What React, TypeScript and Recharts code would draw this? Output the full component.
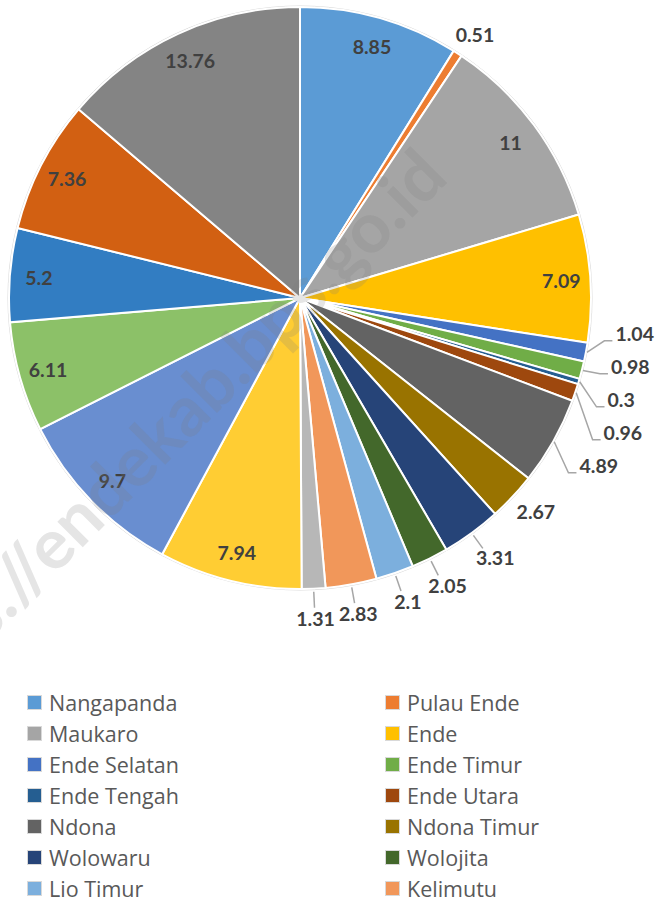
import React from 'react';
import { PieChart, Pie, Cell, Legend, Customized } from 'recharts';

const districts = [
  'Nangapanda', 'Pulau Ende', 'Maukaro', 'Ende', 'Ende Selatan', 'Ende Timur',
  'Ende Tengah', 'Ende Utara', 'Ndona', 'Ndona Timur', 'Wolowaru', 'Wolojita',
  'Lio Timur', 'Kelimutu', 'Ndori', 'Maurole', 'Kotabaru', 'Detukeli',
  'Lepembusu Kelisoke', 'Detusoko', 'Wewaria',
];
const shares = [
  8.85, 0.51, 11, 7.09, 1.04, 0.98, 0.3, 0.96, 4.89, 2.67, 3.31, 2.05,
  2.1, 2.83, 1.31, 7.94, 9.7, 6.11, 5.2, 7.36, 13.76,
];
const COLORS = [
  '#5B9BD5', '#ED7D31', '#A5A5A5', '#FFC000', '#4472C4', '#70AD47',
  '#255E91', '#9E480E', '#636363', '#997300', '#264478', '#43682B',
  '#7CAFDD', '#F1975A', '#B7B7B7', '#FFCD33', '#698ED0', '#8CC168',
  '#327DC2', '#D26012', '#848484',
];

const data = districts.map((name, i) => ({ name, value: shares[i] }));

const W = 662;
const H = 897;
const CX = 300;
const CY = 298;
const R = 291;
const RADIAN = Math.PI / 180;
const INSIDE_MIN = 5; // smaller slices get their label outside
const GAP = 33; // spacing of the stacked labels on the right edge
const ROW_H = 30.9;

const LABEL_FONT = 'Lato, "Open Sans", sans-serif';
const LEGEND_FONT = '"Open Sans", sans-serif';
const LINE = '#A6A6A6';

// the tiny slices on the right crowd together, so stack their labels like excel does
const stackedY: Record<number, number> = (() => {
  const total = shares.reduce((s, v) => s + v, 0);
  let acc = 0;
  const pts: { i: number; y: number }[] = [];
  shares.forEach((v, i) => {
    const t = ((acc + v / 2) / total) * 2 * Math.PI;
    acc += v;
    if (v >= INSIDE_MIN) return;
    if (Math.sin(t) > 0.85) pts.push({ i, y: CY - (R + 40) * Math.cos(t) });
  });
  pts.sort((a, b) => a.y - b.y);
  const groups = pts.map((p) => ({ items: [p], c: p.y }));
  let again = true;
  while (again) {
    again = false;
    for (let k = 0; k < groups.length - 1; k++) {
      const a = groups[k];
      const b = groups[k + 1];
      const aEnd = a.c + ((a.items.length - 1) * GAP) / 2;
      const bStart = b.c - ((b.items.length - 1) * GAP) / 2;
      if (bStart - aEnd < GAP) {
        const items = [...a.items, ...b.items];
        groups.splice(k, 2, { items, c: items.reduce((s, p) => s + p.y, 0) / items.length });
        again = true;
        break;
      }
    }
  }
  const out: Record<number, number> = {};
  groups.forEach((g) =>
    g.items.forEach((p, j) => {
      out[p.i] = g.c + (j - (g.items.length - 1) / 2) * GAP;
    })
  );
  return out;
})();

const txt = { fontFamily: LABEL_FONT, fontSize: 19.5, fontWeight: 700, fill: '#404040' };

const renderLabel = ({ cx, cy, midAngle, outerRadius, value, index }: any) => {
  const cos = Math.cos(-midAngle * RADIAN);
  const sin = Math.sin(-midAngle * RADIAN);

  if (value >= INSIDE_MIN) {
    const r = outerRadius * 0.9;
    return (
      <text x={cx + r * cos} y={cy + r * sin} textAnchor="middle" dominantBaseline="central" {...txt}>
        {value}
      </text>
    );
  }

  const ex = cx + (outerRadius + 1) * cos;
  const ey = cy + (outerRadius + 1) * sin;

  if (stackedY[index] !== undefined) {
    const y = stackedY[index];
    const x = cx + (outerRadius + 30) * cos;
    const base = y + 7;
    return (
      <g>
        <polyline
          points={`${ex},${ey} ${x - 11},${base} ${x - 3},${base}`}
          fill="none"
          stroke={LINE}
          strokeWidth={1.5}
        />
        <text x={x} y={y} dominantBaseline="central" {...txt}>
          {value}
        </text>
      </g>
    );
  }

  const low = sin > 0.8;
  const d = low ? 20 : 12;
  const lx = cx + (outerRadius + d) * cos + 20 * cos;
  const ly = cy + (outerRadius + d) * sin + 10 * sin;
  return (
    <g>
      {low && (
        <line
          x1={cx + (outerRadius + 3) * cos}
          y1={cy + (outerRadius + 3) * sin}
          x2={cx + (outerRadius + d - 1) * cos}
          y2={cy + (outerRadius + d - 1) * sin}
          stroke={LINE}
          strokeWidth={1.5}
        />
      )}
      <text x={lx} y={ly} textAnchor="middle" dominantBaseline="central" {...txt}>
        {value}
      </text>
    </g>
  );
};

const renderLegend = () => (
  <div
    style={{
      position: 'relative',
      width: W,
      height: Math.ceil(districts.length / 2) * ROW_H,
      fontFamily: LEGEND_FONT,
      fontSize: 21.5,
      color: '#595959',
    }}
  >
    {districts.map((name, i) => (
      <div
        key={name}
        style={{
          position: 'absolute',
          left: i % 2 ? 385 : 27,
          top: Math.floor(i / 2) * ROW_H,
          height: ROW_H,
          display: 'flex',
          alignItems: 'center',
          whiteSpace: 'nowrap',
        }}
      >
        <span
          style={{
            display: 'inline-block',
            width: 13,
            height: 13,
            background: COLORS[i],
            border: '1.5px solid #D9D9D9',
            marginRight: 7,
          }}
        />
        {name}
      </div>
    ))}
  </div>
);

const Outline = () => <circle cx={CX} cy={CY} r={R + 1} fill="none" stroke="#D9D9D9" strokeWidth={1} />;

export default function App() {
  return (
    <div style={{ position: 'absolute', left: 0, top: 0, width: W, height: H, overflow: 'hidden', background: '#fff' }}>
      <PieChart width={W} height={H} margin={{ top: 0, right: 0, bottom: 0, left: 0 }}>
        <Customized component={Outline} />
        <Pie
          data={data}
          dataKey="value"
          nameKey="name"
          cx={CX}
          cy={CY}
          outerRadius={R}
          startAngle={90}
          endAngle={-270}
          stroke="#fff"
          strokeWidth={2}
          labelLine={false}
          label={renderLabel}
          isAnimationActive={false}
        >
          {data.map((entry, index) => (
            <Cell key={`cell-${index}`} fill={COLORS[index]} />
          ))}
        </Pie>
        <Legend
          content={renderLegend}
          wrapperStyle={{ position: 'absolute', left: 0, top: 687.5, width: W }}
        />
      </PieChart>
      {/* site watermark stamped over the whole picture */}
      <svg
        width={W}
        height={H}
        style={{ position: 'absolute', left: 0, top: 0, pointerEvents: 'none' }}
      >
        <text
          x={450}
          y={180}
          transform="rotate(-45 450 180)"
          textAnchor="end"
          fontFamily={LABEL_FONT}
          fontSize={70}
          fontWeight={700}
          fill="#7F7F7F"
          fillOpacity={0.2}
        >
          https://endekab.bps.go.id
        </text>
      </svg>
    </div>
  );
}
